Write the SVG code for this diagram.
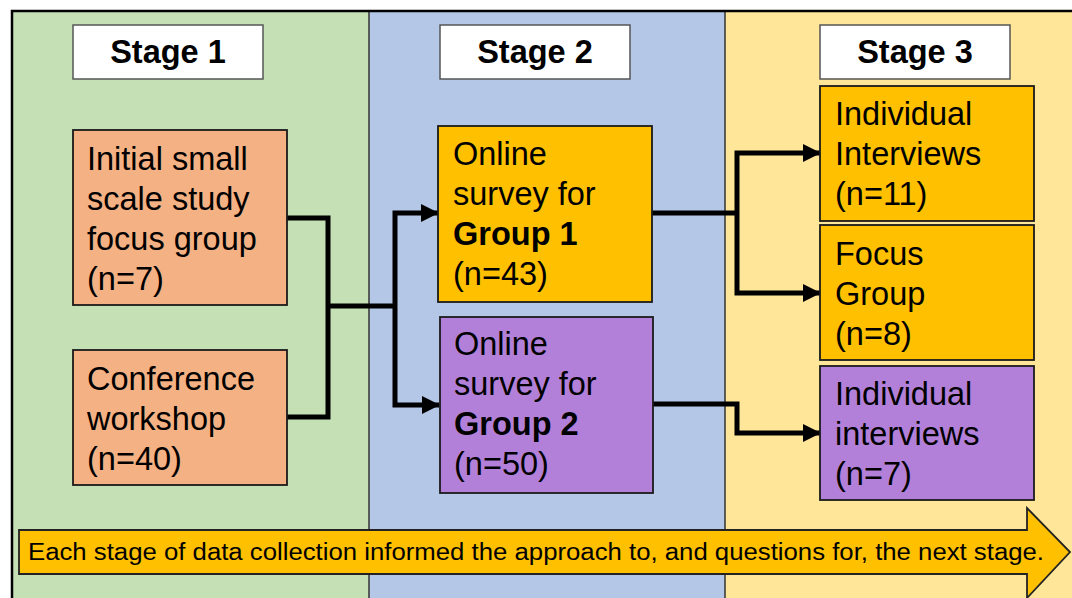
<svg xmlns="http://www.w3.org/2000/svg" width="1072" height="598" viewBox="0 0 1072 598">
<style>
text{font-family:"Liberation Sans",Arial,sans-serif;fill:#000}
.t{font-size:32.5px}
.b{font-weight:bold}
.stage{fill:#fff;stroke:#555;stroke-width:1.5}
.node{stroke:#1a1a1a;stroke-width:1.8}
.conn{fill:none;stroke:#000;stroke-width:5;stroke-linejoin:miter}
</style>
<defs>
<marker id="ah" markerUnits="userSpaceOnUse" markerWidth="20" markerHeight="20" refX="17" refY="9" orient="auto" overflow="visible">
<path d="M0,0 L18,9 L0,18 Z" fill="#000"/>
</marker>
</defs>
<rect x="0" y="0" width="1072" height="598" fill="#fff"/>
<g id="panels">
<rect x="12" y="11" width="357" height="600" fill="#C5E0B4"/>
<rect x="369" y="11" width="356" height="600" fill="#B4C7E7"/>
<rect x="725" y="11" width="360" height="600" fill="#FFE699"/>
<line x1="369" y1="11" x2="369" y2="598" stroke="#333" stroke-width="1.5"/>
<line x1="725" y1="11" x2="725" y2="598" stroke="#333" stroke-width="1.5"/>
<path d="M12,598 L12,11 L1072,11" fill="none" stroke="#000" stroke-width="2.5"/>
</g>
<g id="stage1"><rect class="stage" x="73" y="25" width="190" height="54"/><text class="t b" x="168" y="63" text-anchor="middle">Stage 1</text></g>
<g id="stage2"><rect class="stage" x="440" y="25" width="190" height="54"/><text class="t b" x="535" y="63" text-anchor="middle">Stage 2</text></g>
<g id="stage3"><rect class="stage" x="820" y="25" width="190" height="54"/><text class="t b" x="915" y="63" text-anchor="middle">Stage 3</text></g>
<g id="connectors">
<path class="conn" d="M287,218 H328 V417 H287"/>
<path class="conn" d="M328,306 H395"/>
<path class="conn" d="M395,306 V213 H438" marker-end="url(#ah)"/>
<path class="conn" d="M395,306 V405 H439" marker-end="url(#ah)"/>
<path class="conn" d="M652,213 H737"/>
<path class="conn" d="M737,213 V153 H820" marker-end="url(#ah)"/>
<path class="conn" d="M737,213 V293 H820" marker-end="url(#ah)"/>
<path class="conn" d="M653,404 H737 V433 H820" marker-end="url(#ah)"/>
</g>
<g id="initial"><rect class="node" x="73" y="130" width="214" height="175" fill="#F4B183"/>
<text class="t" x="87"><tspan x="87" y="170">Initial small</tspan><tspan x="87" y="210">scale study</tspan><tspan x="87" y="250">focus group</tspan><tspan x="87" y="290">(n=7)</tspan></text></g>
<g id="conference"><rect class="node" x="73" y="350" width="214" height="135" fill="#F4B183"/>
<text class="t" x="87"><tspan x="87" y="390">Conference</tspan><tspan x="87" y="430">workshop</tspan><tspan x="87" y="470">(n=40)</tspan></text></g>
<g id="group1"><rect class="node" x="438" y="126" width="214" height="176" fill="#FFC000"/>
<text class="t" x="453"><tspan x="453" y="165">Online</tspan><tspan x="453" y="205">survey for</tspan><tspan x="453" y="245" font-weight="bold">Group 1</tspan><tspan x="453" y="285">(n=43)</tspan></text></g>
<g id="group2"><rect class="node" x="440" y="317" width="213" height="176" fill="#B380D9"/>
<text class="t" x="454"><tspan x="454" y="355">Online</tspan><tspan x="454" y="395">survey for</tspan><tspan x="454" y="435" font-weight="bold">Group 2</tspan><tspan x="454" y="475">(n=50)</tspan></text></g>
<g id="interviews1"><rect class="node" x="820" y="86" width="214" height="135" fill="#FFC000"/>
<text class="t" x="835"><tspan x="835" y="125">Individual</tspan><tspan x="835" y="165">Interviews</tspan><tspan x="835" y="205">(n=11)</tspan></text></g>
<g id="focusgroup"><rect class="node" x="820" y="225" width="214" height="135" fill="#FFC000"/>
<text class="t" x="835"><tspan x="835" y="265">Focus</tspan><tspan x="835" y="305">Group</tspan><tspan x="835" y="345">(n=8)</tspan></text></g>
<g id="interviews2"><rect class="node" x="820" y="366" width="214" height="134" fill="#B380D9"/>
<text class="t" x="835"><tspan x="835" y="405">Individual</tspan><tspan x="835" y="445">interviews</tspan><tspan x="835" y="485">(n=7)</tspan></text></g>
<g id="banner">
<path d="M19,530 H1027 V508 L1070,552 L1027,598 V574 H19 Z" fill="#FFC000" stroke="#222" stroke-width="1.8"/>
<text x="28" y="560" font-size="23" textLength="1016" lengthAdjust="spacingAndGlyphs">Each stage of data collection informed the approach to, and questions for, the next stage.</text>
</g>
</svg>
